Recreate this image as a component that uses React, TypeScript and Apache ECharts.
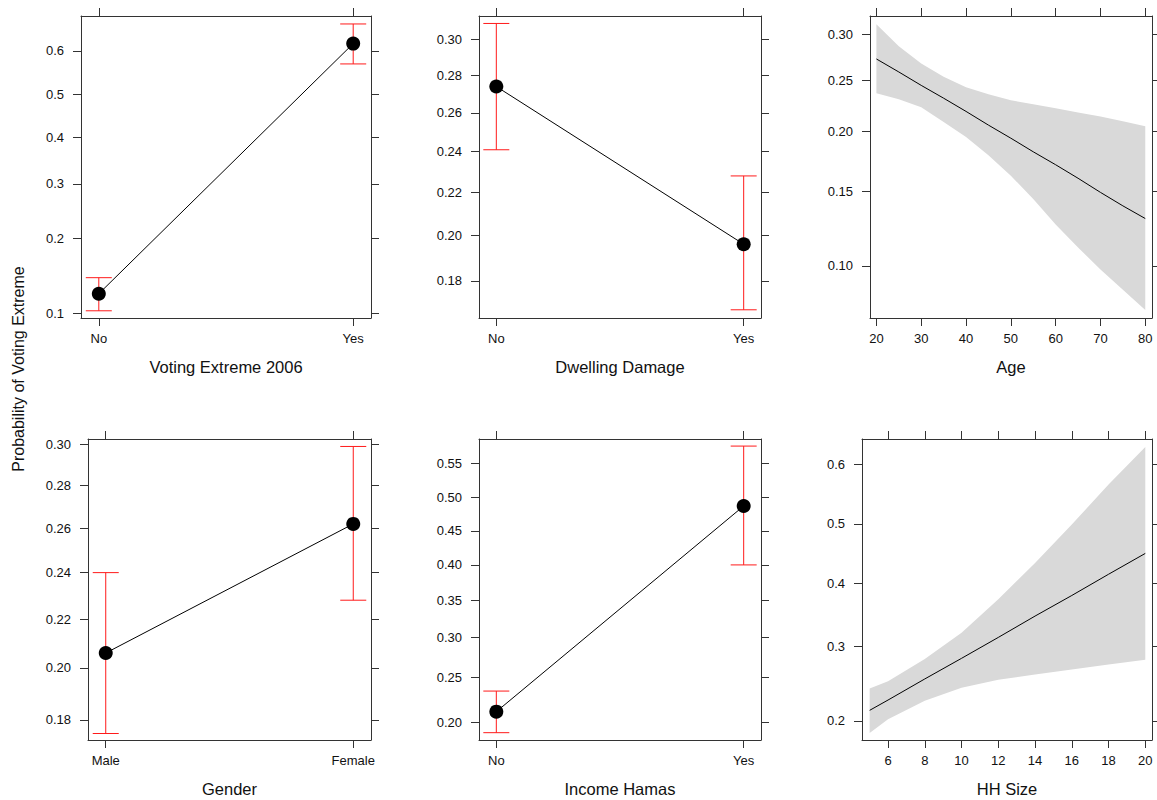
import React, { useEffect, useRef } from "react";
import * as echarts from "echarts";

// ---------- data (probabilities) ----------
const votingCats = ["No", "Yes"];
const votingFit = [0.122, 0.616];
const votingLower = [0.103, 0.57];
const votingUpper = [0.142, 0.659];
const votingTickLabels = ["0.1", "0.2", "0.3", "0.4", "0.5", "0.6"];

const dwellingCats = ["No", "Yes"];
const dwellingFit = [0.274, 0.196];
const dwellingLower = [0.241, 0.168];
const dwellingUpper = [0.309, 0.228];
const dwellingTickLabels = ["0.18", "0.20", "0.22", "0.24", "0.26", "0.28", "0.30"];

const ageValues = [20, 25, 30, 35, 40, 45, 50, 55, 60, 65, 70, 75, 80];
const ageFit = [0.273, 0.259, 0.245, 0.232, 0.219, 0.206, 0.194, 0.182, 0.171, 0.16, 0.149, 0.139, 0.13];
const ageUpper = [0.312, 0.287, 0.268, 0.254, 0.243, 0.236, 0.23, 0.226, 0.222, 0.218, 0.214, 0.2095, 0.205];
const ageLower = [0.237, 0.231, 0.223, 0.209, 0.195, 0.179, 0.162, 0.144, 0.126, 0.111, 0.098, 0.087, 0.077];
const ageTickLabels = ["0.10", "0.15", "0.20", "0.25", "0.30"];
const ageXTicks = [20, 30, 40, 50, 60, 70, 80];

const genderCats = ["Male", "Female"];
const genderFit = [0.206, 0.262];
const genderLower = [0.175, 0.228];
const genderUpper = [0.24, 0.299];
const genderTickLabels = ["0.18", "0.20", "0.22", "0.24", "0.26", "0.28", "0.30"];

const incomeCats = ["No", "Yes"];
const incomeFit = [0.211, 0.487];
const incomeLower = [0.189, 0.4];
const incomeUpper = [0.234, 0.576];
const incomeTickLabels = ["0.20", "0.25", "0.30", "0.35", "0.40", "0.45", "0.50", "0.55"];

const hhValues = [5, 6, 8, 10, 12, 14, 16, 18, 20];
const hhFit = [0.213, 0.226, 0.254, 0.283, 0.314, 0.347, 0.38, 0.415, 0.45];
const hhUpper = [0.241, 0.251, 0.282, 0.321, 0.374, 0.434, 0.499, 0.567, 0.629];
const hhLower = [0.186, 0.202, 0.225, 0.242, 0.253, 0.26, 0.267, 0.274, 0.281];
const hhTickLabels = ["0.2", "0.3", "0.4", "0.5", "0.6"];
const hhXTicks = [6, 8, 10, 12, 14, 16, 18, 20];

const yTitle = "Probability of Voting Extreme";

// ---------- probit scale (inverse normal CDF) ----------
function qnorm(p: number): number {
  const a = [-3.969683028665376e1, 2.209460984245205e2, -2.759285104469687e2, 1.38357751867269e2, -3.066479806614716e1, 2.506628277459239];
  const b = [-5.447609879822406e1, 1.615858368580409e2, -1.556989798598866e2, 6.680131188771972e1, -1.328068155288572e1];
  const c = [-7.784894002430293e-3, -3.223964580411365e-1, -2.400758277161838, -2.549732539343734, 4.374664141464968, 2.938163982698783];
  const d = [7.784695709041462e-3, 3.224671290700398e-1, 2.445134137142996, 3.754408661907416];
  const pl = 0.02425;
  if (p < pl) {
    const q = Math.sqrt(-2 * Math.log(p));
    return (((((c[0] * q + c[1]) * q + c[2]) * q + c[3]) * q + c[4]) * q + c[5]) / ((((d[0] * q + d[1]) * q + d[2]) * q + d[3]) * q + 1);
  }
  if (p <= 1 - pl) {
    const q = p - 0.5;
    const r = q * q;
    return ((((((a[0] * r + a[1]) * r + a[2]) * r + a[3]) * r + a[4]) * r + a[5]) * q) / (((((b[0] * r + b[1]) * r + b[2]) * r + b[3]) * r + b[4]) * r + 1);
  }
  const q = Math.sqrt(-2 * Math.log(1 - p));
  return -(((((c[0] * q + c[1]) * q + c[2]) * q + c[3]) * q + c[4]) * q + c[5]) / ((((d[0] * q + d[1]) * q + d[2]) * q + d[3]) * q + 1);
}

type Panel = {
  grid: { left: number; top: number; width: number; height: number };
  kind: "factor" | "numeric";
  cats?: string[];
  xs?: number[];
  xTicks?: number[];
  fit: number[];
  lower: number[];
  upper: number[];
  xRange: [number, number];
  yRange: [number, number];
  yTickLabels: string[];
  title: string;
};

const panels: Panel[] = [
  { grid: { left: 81, top: 16, width: 290, height: 302 }, kind: "factor", cats: votingCats, fit: votingFit, lower: votingLower, upper: votingUpper, xRange: [-0.07, 1.07], yRange: [-1.3067, 0.4562], yTickLabels: votingTickLabels, title: "Voting Extreme 2006" },
  { grid: { left: 479, top: 16, width: 282, height: 302 }, kind: "factor", cats: dwellingCats, fit: dwellingFit, lower: dwellingLower, upper: dwellingUpper, xRange: [-0.07, 1.07], yRange: [-0.9754, -0.4866], yTickLabels: dwellingTickLabels, title: "Dwelling Damage" },
  { grid: { left: 870, top: 16, width: 282, height: 302 }, kind: "numeric", xs: ageValues, xTicks: ageXTicks, fit: ageFit, lower: ageLower, upper: ageUpper, xRange: [18.57, 81.5], yRange: [-1.4521, -0.4631], yTickLabels: ageTickLabels, title: "Age" },
  { grid: { left: 88, top: 439, width: 283, height: 301 }, kind: "factor", cats: genderCats, fit: genderFit, lower: genderLower, upper: genderUpper, xRange: [-0.0717, 1.0717], yRange: [-0.9438, -0.5167], yTickLabels: genderTickLabels, title: "Gender" },
  { grid: { left: 479, top: 439, width: 282, height: 301 }, kind: "factor", cats: incomeCats, fit: incomeFit, lower: incomeLower, upper: incomeUpper, xRange: [-0.07, 1.07], yRange: [-0.909, 0.2182], yTickLabels: incomeTickLabels, title: "Income Hamas" },
  { grid: { left: 862, top: 439, width: 290, height: 301 }, kind: "numeric", xs: hhValues, xTicks: hhXTicks, fit: hhFit, lower: hhLower, upper: hhUpper, xRange: [4.583, 20.365], yRange: [-0.9228, 0.3631], yTickLabels: hhTickLabels, title: "HH Size" },
];

const FRAME = "#333333";
const FONT = "'Liberation Sans', Arial, Helvetica, sans-serif";

function buildOption() {
  const grid: any[] = [];
  const xAxis: any[] = [];
  const yAxis: any[] = [];
  const series: any[] = [];

  panels.forEach((p, i) => {
    grid.push({ ...p.grid, containLabel: false });
    const yVals = p.yTickLabels.map((s) => qnorm(parseFloat(s)));
    const yFmt = (v: number) => {
      let best = 0;
      yVals.forEach((t, k) => {
        if (Math.abs(t - v) < Math.abs(yVals[best] - v)) best = k;
      });
      return p.yTickLabels[best];
    };
    const xVals = p.kind === "factor" ? p.cats!.map((_, k) => k) : p.xTicks!;
    const xFmt = (v: number) => (p.kind === "factor" ? p.cats![Math.round(v)] : String(Math.round(v)));

    const common = {
      type: "value",
      gridIndex: i,
      splitLine: { show: false },
      axisLine: { show: true, onZero: false, lineStyle: { color: FRAME, width: 1 } },
    };
    xAxis.push({
      ...common,
      position: "bottom",
      min: p.xRange[0],
      max: p.xRange[1],
      axisTick: { show: true, inside: false, length: 8, customValues: xVals, lineStyle: { color: FRAME } },
      axisLabel: { show: true, customValues: xVals, formatter: xFmt, margin: 14, fontSize: 13, color: "#111", fontFamily: FONT },
      name: p.title,
      nameLocation: "middle",
      nameGap: 40,
      nameTextStyle: { fontSize: 16.5, color: "#111", fontFamily: FONT },
    });
    xAxis.push({
      ...common,
      position: "top",
      min: p.xRange[0],
      max: p.xRange[1],
      axisTick: { show: true, inside: false, length: 8, customValues: xVals, lineStyle: { color: FRAME } },
      axisLabel: { show: false },
    });
    yAxis.push({
      ...common,
      position: "left",
      min: p.yRange[0],
      max: p.yRange[1],
      axisTick: { show: true, inside: false, length: 8, customValues: yVals, lineStyle: { color: FRAME } },
      axisLabel: { show: true, customValues: yVals, formatter: yFmt, margin: 17, fontSize: 13, color: "#111", fontFamily: FONT },
    });
    yAxis.push({
      ...common,
      position: "right",
      min: p.yRange[0],
      max: p.yRange[1],
      axisTick: { show: true, inside: false, length: 8, customValues: yVals, lineStyle: { color: FRAME } },
      axisLabel: { show: false },
    });

    const xi = 2 * i;
    const yi = 2 * i;

    if (p.kind === "factor") {
      const rows = p.cats!.map((_, k) => [k, qnorm(p.lower[k]), qnorm(p.upper[k])]);
      series.push({
        type: "custom",
        xAxisIndex: xi,
        yAxisIndex: yi,
        data: rows,
        encode: { x: 0, y: [1, 2] },
        z: 2,
        renderItem: (params: any, api: any) => {
          const x = api.value(0);
          const a = api.coord([x, api.value(1)]);
          const b = api.coord([x, api.value(2)]);
          const hw = 13;
          const st = { stroke: "#ff1a1a", lineWidth: 1 };
          return {
            type: "group",
            children: [
              { type: "line", shape: { x1: a[0], y1: a[1], x2: b[0], y2: b[1] }, style: st },
              { type: "line", shape: { x1: a[0] - hw, y1: a[1], x2: a[0] + hw, y2: a[1] }, style: st },
              { type: "line", shape: { x1: b[0] - hw, y1: b[1], x2: b[0] + hw, y2: b[1] }, style: st },
            ],
          };
        },
      });
      series.push({
        type: "line",
        xAxisIndex: xi,
        yAxisIndex: yi,
        data: p.fit.map((v, k) => [k, qnorm(v)]),
        symbol: "circle",
        symbolSize: 14,
        showSymbol: true,
        z: 3,
        itemStyle: { color: "#000", borderWidth: 0 },
        lineStyle: { color: "#000", width: 1 },
        silent: true,
      });
    } else {
      const xs = p.xs!;
      const rows = xs.map((x, k) => [x, qnorm(p.lower[k]), qnorm(p.upper[k])]);
      series.push({
        type: "custom",
        xAxisIndex: xi,
        yAxisIndex: yi,
        data: rows,
        encode: { x: 0, y: [1, 2] },
        z: 1,
        renderItem: (params: any, api: any) => {
          if (params.dataIndex !== 0) return null;
          const up = xs.map((x, k) => api.coord([x, qnorm(p.upper[k])]));
          const lo = xs.map((x, k) => api.coord([x, qnorm(p.lower[k])])).reverse();
          return {
            type: "polygon",
            shape: { points: up.concat(lo), smooth: 0 },
            style: { fill: "#d9d9d9", stroke: "none" },
          };
        },
      });
      series.push({
        type: "line",
        xAxisIndex: xi,
        yAxisIndex: yi,
        data: xs.map((x, k) => [x, qnorm(p.fit[k])]),
        symbol: "none",
        z: 3,
        lineStyle: { color: "#000", width: 1 },
        silent: true,
      });
    }
  });

  return {
    animation: false,
    backgroundColor: "#ffffff",
    textStyle: { fontFamily: FONT },
    grid,
    xAxis,
    yAxis,
    series,
    graphic: [
      {
        type: "text",
        x: 18.5,
        y: 369,
        rotation: Math.PI / 2,
        style: {
          text: yTitle,
          fontSize: 16,
          fontFamily: FONT,
          fill: "#111",
          textAlign: "center",
          textVerticalAlign: "middle",
        },
      },
    ],
  };
}

export default function App() {
  const ref = useRef<HTMLDivElement>(null);
  useEffect(() => {
    document.body.style.margin = "0";
    if (!ref.current) return;
    const chart = echarts.init(ref.current, undefined, { renderer: "svg" });
    chart.setOption(buildOption() as any);
    return () => chart.dispose();
  }, []);
  return <div ref={ref} style={{ width: 1157, height: 800 }} />;
}
